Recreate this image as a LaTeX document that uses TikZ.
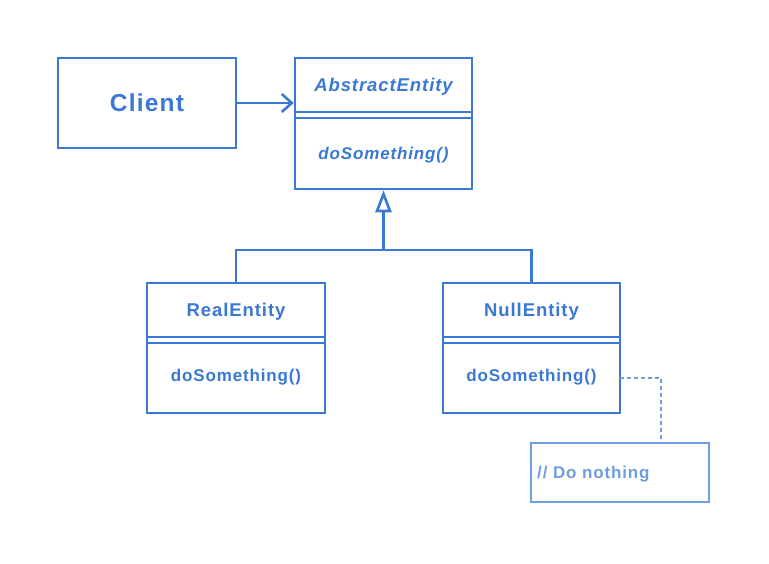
\documentclass[tikz,border=0pt]{standalone}
\usepackage{fontspec}
\newfontfamily\umlfont{Liberation Sans}[LetterSpace=5]
\usetikzlibrary{arrows.meta}
\definecolor{umlblue}{HTML}{3A78D4}
\definecolor{notblue}{HTML}{6E9EE0}
\tikzset{
  umlbox/.style={draw=umlblue, line width=2.6pt, fill=white, inner sep=0pt},
  sepline/.style={draw=umlblue, line width=1.6pt},
  conn/.style={draw=umlblue, line width=2.6pt},
  title/.style={text=umlblue, anchor=base, inner sep=0pt, font=\umlfont\bfseries\fontsize{18.5}{21}\selectfont},
  method/.style={text=umlblue, anchor=base, inner sep=0pt, font=\umlfont\bfseries\fontsize{17}{20}\selectfont},
}
\begin{document}
\begin{tikzpicture}[x=1pt,y=-1pt]
\useasboundingbox[fill=white] (0,0) rectangle (769,563);
% Client
\node[umlbox, minimum width=178pt, minimum height=90pt] (client) at (147,103) {};
\node[text=umlblue, anchor=base, inner sep=0pt, font=\umlfont\bfseries\fontsize{24.5}{28}\selectfont] (clientt) at (147,111) {Client};
% AbstractEntity
\node[umlbox, minimum width=177pt, minimum height=131pt] (abs) at (383.5,123.5) {};
\node[title, font=\umlfont\bfseries\itshape\fontsize{18.5}{21}\selectfont] (abst) at (383.5,91.7) {AbstractEntity};
\draw[sepline] (abs.west |- 0,112) -- (abs.east |- 0,112);
\draw[sepline] (abs.west |- 0,118) -- (abs.east |- 0,118);
\node[method, font=\umlfont\bfseries\itshape\fontsize{17}{20}\selectfont] (absm) at (383.5,159.3) {doSomething()};
% RealEntity
\node[umlbox, minimum width=178pt, minimum height=130pt] (real) at (236,348) {};
\node[title] (realt) at (236,316.7) {RealEntity};
\draw[sepline] (real.west |- 0,337) -- (real.east |- 0,337);
\draw[sepline] (real.west |- 0,343) -- (real.east |- 0,343);
\node[method] (realm) at (236,381.7) {doSomething()};
% NullEntity
\node[umlbox, minimum width=177pt, minimum height=130pt] (null) at (531.5,348) {};
\node[title] (nullt) at (531.5,316.7) {NullEntity};
\draw[sepline] (null.west |- 0,337) -- (null.east |- 0,337);
\draw[sepline] (null.west |- 0,343) -- (null.east |- 0,343);
\node[method] (nullm) at (531.5,381.7) {doSomething()};
% Note
\node[draw=notblue, line width=2.6pt, minimum width=178pt, minimum height=59pt, inner sep=0pt] (note) at (620,472.5) {};
\node[text=notblue, font=\umlfont\bfseries\fontsize{17}{20}\selectfont, anchor=base west, inner sep=0pt] (notet) at (537,478.3) {// Do nothing};
% connectors
\draw[conn, -{Straight Barb[length=10pt, width=18pt, line width=2.6pt]}] (client.east) -- (abs.west |- client.east);
\coordinate (junc) at (383.5,250);
\draw[conn] (real.north) |- (junc);
\draw[conn] (null.north) |- (junc);
\draw[conn, -{Triangle[open, length=22pt, width=16pt, line width=2.6pt, fill=white]}] (junc) -- (abs.south);
\coordinate (notec) at (661,443);
\coordinate (nullmr) at (620,378);
\draw[draw=notblue, line width=2.4pt, dash pattern=on 4pt off 3pt] (nullmr) -| (notec);
\end{tikzpicture}
\end{document}
